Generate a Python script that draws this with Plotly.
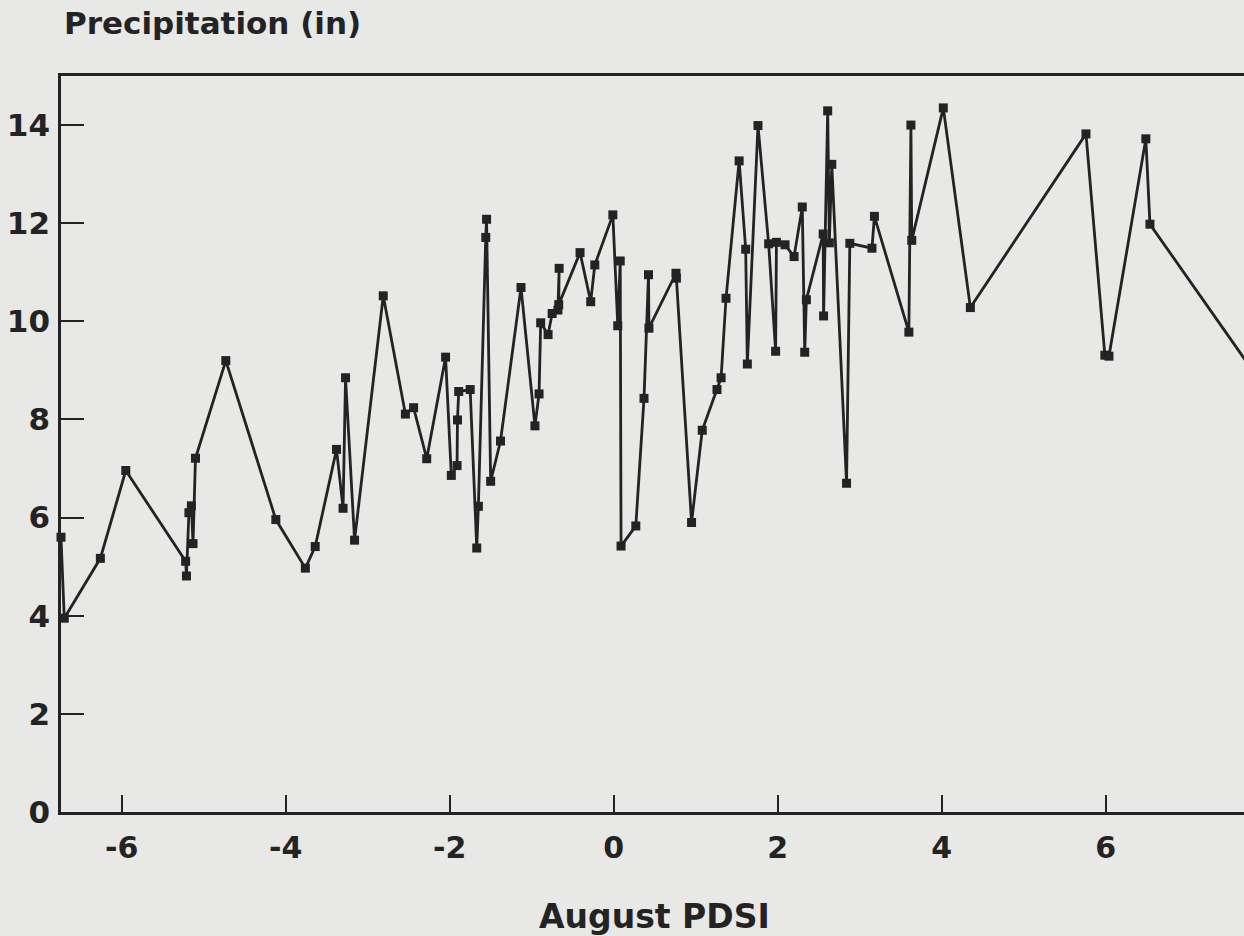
import plotly.graph_objects as go

# August PDSI (x) vs precipitation in inches (y), in drawing order
pdsi = [-6.74, -6.70, -6.26, -5.95, -5.22, -5.21, -5.18, -5.15, -5.13, -5.10,
        -4.73, -4.12, -3.76, -3.64, -3.38, -3.30, -3.27, -3.16, -2.81, -2.54,
        -2.44, -2.28, -2.05, -1.98, -1.91, -1.905, -1.89, -1.75, -1.67, -1.65,
        -1.56, -1.55, -1.50, -1.38, -1.13, -0.96, -0.91, -0.89, -0.80, -0.75,
        -0.68, -0.665, -0.67, -0.41, -0.28, -0.23, -0.01, 0.05, 0.08, 0.09,
        0.27, 0.37, 0.425, 0.43, 0.76, 0.765, 0.95, 1.08, 1.26, 1.31,
        1.37, 1.53, 1.61, 1.63, 1.76, 1.89, 1.975, 1.985, 2.09, 2.20,
        2.30, 2.33, 2.35, 2.555, 2.56, 2.61, 2.63, 2.66, 2.84, 2.88,
        3.15, 3.18, 3.60, 3.625, 3.635, 4.02, 4.35, 5.76, 5.99, 6.04,
        6.49, 6.54, 7.90]
precip = [5.60, 3.95, 5.17, 6.96, 5.11, 4.81, 6.10, 6.24, 5.47, 7.21,
          9.20, 5.96, 4.97, 5.41, 7.39, 6.19, 8.85, 5.54, 10.52, 8.11,
          8.24, 7.20, 9.27, 6.86, 7.06, 7.99, 8.57, 8.61, 5.38, 6.23,
          11.71, 12.08, 6.74, 7.56, 10.69, 7.87, 8.52, 9.97, 9.73, 10.16,
          10.23, 11.08, 10.34, 11.40, 10.40, 11.15, 12.17, 9.91, 11.23, 5.42,
          5.83, 8.43, 10.95, 9.86, 10.98, 10.88, 5.90, 7.78, 8.61, 8.85,
          10.47, 13.27, 11.47, 9.13, 13.99, 11.58, 9.39, 11.61, 11.56, 11.32,
          12.33, 9.37, 10.44, 11.78, 10.11, 14.29, 11.60, 13.20, 6.70, 11.59,
          11.49, 12.14, 9.78, 14.00, 11.65, 14.35, 10.28, 13.82, 9.31, 9.29,
          13.72, 11.98, 8.74]

x_ticks = [-6, -4, -2, 0, 2, 4, 6]
y_ticks = [0, 2, 4, 6, 8, 10, 12, 14]

INK = "#232323"
PAPER = "#e8e8e6"
FONT = "DejaVu Sans"

fig = go.Figure()
fig.add_trace(go.Scatter(
    x=pdsi, y=precip, mode="lines+markers",
    line=dict(color=INK, width=2.8),
    marker=dict(symbol="square", size=9, color=INK),
    cliponaxis=False, showlegend=False, hoverinfo="x+y",
))

fig.update_layout(
    width=1244, height=936,
    margin=dict(l=61, r=0, t=76, b=124),
    paper_bgcolor=PAPER, plot_bgcolor=PAPER,
    font=dict(family=FONT, color=INK),
    xaxis=dict(
        range=[-6.74, 7.687], tickvals=x_ticks, ticktext=[str(v) for v in x_ticks],
        showgrid=False, zeroline=False, showline=True, mirror=True,
        linecolor=INK, linewidth=2.6,
        ticks="inside", ticklen=17, tickwidth=2.2, tickcolor=INK,
        tickfont=dict(family=FONT, size=30, color=INK, weight="bold"),
        ticklabelstandoff=7,
    ),
    yaxis=dict(
        range=[0, 15], tickvals=y_ticks, ticktext=[str(v) for v in y_ticks],
        showgrid=False, zeroline=False, showline=True, mirror=False,
        linecolor=INK, linewidth=2.6,
        ticks="inside", ticklen=23, tickwidth=2.2, tickcolor=INK,
        tickfont=dict(family=FONT, size=31, color=INK, weight="bold"),
        ticklabelstandoff=2,
    ),
    annotations=[
        dict(text="Precipitation (in)", xref="paper", yref="paper", x=0, y=1,
             xanchor="left", yanchor="middle", yshift=53, xshift=1, showarrow=False,
             font=dict(family=FONT, size=31, color=INK, weight="bold")),
        dict(text="August PDSI", xref="paper", yref="paper", x=0.5, y=0,
             xanchor="center", yanchor="middle", yshift=-104, xshift=2, showarrow=False,
             font=dict(family=FONT, size=33, color=INK, weight="bold")),
    ],
)

fig.write_html(
    "out.html",
    config={"displayModeBar": False},
    post_script="document.body.style.margin='0';document.body.style.background='" + PAPER + "';",
)
